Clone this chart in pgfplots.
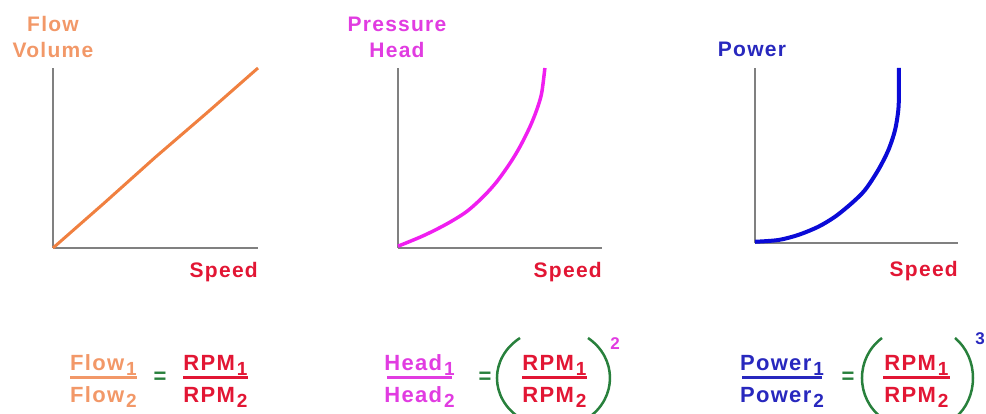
\documentclass[border=0pt]{standalone}
\usepackage{pgfplots}
\pgfplotsset{compat=1.18}
\usepackage{fontspec}
\setmainfont{Liberation Sans}[LetterSpace=6]
\definecolor{flowline}{RGB}{240,128,64}
\definecolor{flowtxt}{RGB}{242,152,104}
\definecolor{magline}{RGB}{240,30,240}
\definecolor{magtxt}{RGB}{225,60,225}
\definecolor{blueline}{RGB}{10,10,215}
\definecolor{bluetxt}{RGB}{40,40,190}
\definecolor{spd}{RGB}{226,22,52}
\definecolor{grn}{RGB}{40,128,60}
\definecolor{axgray}{RGB}{128,128,128}
\pgfplotsset{mini/.style={scale only axis, axis x line=bottom, axis y line=left,
  axis line style={-, axgray, line width=2.2pt}, ticks=none,
  xmin=0, xmax=1, ymin=0, ymax=1, clip=false, anchor=south west}}
\newcommand{\sbs}[1]{\kern2pt\raisebox{-5pt}{\fontsize{19}{19}\selectfont #1}}
\begin{document}
\begin{tikzpicture}[x=1pt,y=1pt,font=\fontsize{21}{26}\selectfont\bfseries]
\useasboundingbox (0,0) rectangle (986,414);
% ---- plot 1: flow
\begin{axis}[mini, at={(53pt,166pt)}, width=205pt, height=180pt]
\addplot[flowline, line width=3pt] coordinates {(0,0) (0.25,0.25) (0.5,0.505) (0.75,0.75) (1,1)};
\end{axis}
% ---- plot 2: head
\begin{axis}[mini, at={(398pt,166pt)}, width=204pt, height=180pt]
\addplot[magline, line width=3.5pt, smooth] coordinates {
(0,0.01) (0.124,0.068) (0.238,0.133) (0.336,0.202) (0.418,0.285) (0.484,0.368) (0.549,0.471) (0.598,0.563) (0.647,0.674) (0.680,0.767) (0.704,0.859) (0.720,1.0)};
\end{axis}
% ---- plot 3: power
\begin{axis}[mini, at={(755pt,171pt)}, width=203pt, height=175pt]
\addplot[blueline, line width=4pt, smooth] coordinates {
(0,0.007) (0.115,0.017) (0.213,0.046) (0.312,0.093) (0.394,0.150) (0.476,0.227) (0.542,0.303) (0.607,0.417) (0.657,0.531) (0.690,0.646) (0.706,0.760) (0.709,0.855) (0.709,1.0)};
\end{axis}
% ---- axis labels
\node[anchor=south, align=center, inner sep=0, text=flowtxt] at (53,356) {Flow\\Volume};
\node[anchor=south, align=center, inner sep=0, text=magtxt] at (397,356) {Pressure\\Head};
\node[anchor=south, inner sep=0, text=bluetxt] at (752,357) {Power};
\node[anchor=base east, inner sep=0, text=spd] at (258,136) {Speed};
\node[anchor=base east, inner sep=0, text=spd] at (602,136) {Speed};
\node[anchor=base east, inner sep=0, text=spd] at (958,137) {Speed};
% ---- formula 1
\begin{scope}[every node/.style={inner sep=0, font=\fontsize{22}{26}\selectfont\bfseries}]
\node[anchor=base, text=flowtxt] at (103.5,43) {Flow\sbs{1}};
\draw[flowtxt, line width=3pt] (70,36.5) -- (137,36.5);
\node[anchor=base, text=flowtxt] at (103.5,11) {Flow\sbs{2}};
\node[anchor=base, text=grn] at (160,30) {=};
\node[anchor=base, text=spd] at (215.5,43) {RPM\sbs{1}};
\draw[spd, line width=3pt] (183,36.5) -- (248,36.5);
\node[anchor=base, text=spd] at (215.5,11) {RPM\sbs{2}};
% ---- formula 2
\node[anchor=base, text=magtxt] at (419.5,43) {Head\sbs{1}};
\draw[magtxt, line width=3pt] (387,36.5) -- (452,36.5);
\node[anchor=base, text=magtxt] at (419.5,11) {Head\sbs{2}};
\node[anchor=base, text=grn] at (485,30) {=};
\draw[grn, line width=2.5pt] (520,76) .. controls (489.3,56) and (489.3,16) .. (520,-4);
\node[anchor=base, text=spd] at (554.5,43) {RPM\sbs{1}};
\draw[spd, line width=3pt] (522,36.5) -- (587,36.5);
\node[anchor=base, text=spd] at (554.5,11) {RPM\sbs{2}};
\draw[grn, line width=2.5pt] (588,76) .. controls (617.3,56) and (617.3,16) .. (588,-4);
\node[anchor=center, text=magtxt, font=\fontsize{17}{17}\selectfont\bfseries] at (615,70) {2};
% ---- formula 3
\node[anchor=base, text=bluetxt] at (782,43) {Power\sbs{1}};
\draw[bluetxt, line width=3pt] (742,36.5) -- (822,36.5);
\node[anchor=base, text=bluetxt] at (782,11) {Power\sbs{2}};
\node[anchor=base, text=grn] at (848,30) {=};
\draw[grn, line width=2.5pt] (882,76) .. controls (855.3,56) and (855.3,16) .. (882,-4);
\node[anchor=base, text=spd] at (916.5,43) {RPM\sbs{1}};
\draw[spd, line width=3pt] (883,36.5) -- (950,36.5);
\node[anchor=base, text=spd] at (916.5,11) {RPM\sbs{2}};
\draw[grn, line width=2.5pt] (955,76) .. controls (979,56) and (979,16) .. (955,-4);
\node[anchor=center, text=bluetxt, font=\fontsize{17}{17}\selectfont\bfseries] at (980,75) {3};
\end{scope}
\end{tikzpicture}
\end{document}
